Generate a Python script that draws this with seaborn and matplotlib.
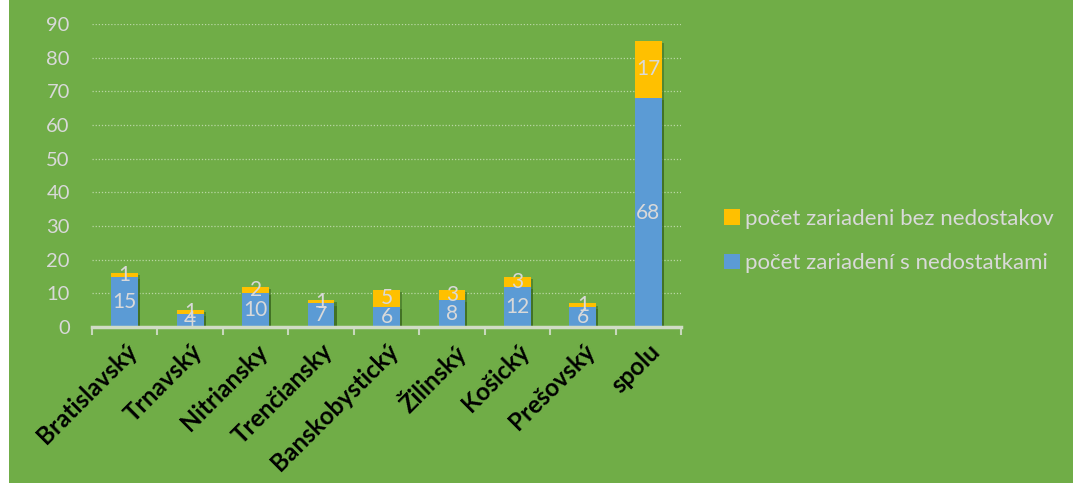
import matplotlib
matplotlib.use("Agg")
import matplotlib.pyplot as plt
import matplotlib.patheffects as pe
from matplotlib.patches import Rectangle
import seaborn as sns
import pandas as pd
import numpy as np

categories = ["Bratislavský", "Trnavský", "Nitriansky", "Trenčiansky", "Banskobystický",
              "Žilinský", "Košický", "Prešovský", "spolu"]
s_nedostatkami = [15, 4, 10, 7, 6, 8, 12, 6, 68]
bez_nedostatkov = [1, 1, 2, 1, 5, 3, 3, 1, 17]
label_bez = "počet zariadeni bez nedostakov"
label_s = "počet zariadení s nedostatkami"
yticks = [0, 10, 20, 30, 40, 50, 60, 70, 80, 90]

GREEN = "#70AD47"
BLUE = "#5B9BD5"
YELLOW = "#FFC000"
LIGHT = "#D9D9D9"

sns.set_theme(style="white")
plt.rcParams["font.family"] = ["Lato", "DejaVu Sans"]

df = pd.DataFrame({"kraj": categories,
                   "s": s_nedostatkami,
                   "bez": bez_nedostatkov})
df["total"] = df["s"] + df["bez"]

fig = plt.figure(figsize=(10.73, 4.83), dpi=100)
fig.patch.set_facecolor(GREEN)
fig.add_artist(Rectangle((0, 0), 9 / 1073, 1, transform=fig.transFigure,
                         facecolor="white", edgecolor="none", zorder=10))
ax = fig.add_axes([92 / 1073, 1 - 327 / 483, (681 - 92) / 1073, (327 - 24) / 483])
ax.set_facecolor(GREEN)

shadow = [pe.SimplePatchShadow(offset=(1.5, -1.5), shadow_rgbFace="#2f5a17", alpha=0.45), pe.Normal()]

sns.barplot(data=df, x="kraj", y="total", color=YELLOW, saturation=1, width=0.41,
            ax=ax, zorder=3)
sns.barplot(data=df, x="kraj", y="s", color=BLUE, saturation=1, width=0.41,
            ax=ax, zorder=4)
for p in ax.patches:
    p.set_path_effects(shadow)
    p.set_edgecolor("none")

blue_cont = ax.containers[1]
ax.bar_label(blue_cont, labels=[str(v) for v in s_nedostatkami], label_type="center",
             color=LIGHT, fontsize=15, zorder=6)
for i, (b, y) in enumerate(zip(s_nedostatkami, bez_nedostatkov)):
    ax.text(i, b + y / 2, str(y), ha="center", va="center", color=LIGHT,
            fontsize=15, zorder=6)

ax.set_ylim(0, 90)
ax.set_xlim(-0.5, len(categories) - 0.5)
ax.set_yticks(yticks)
ax.set_yticklabels([str(t) for t in yticks], color=LIGHT, fontsize=14.5)
ax.tick_params(axis="y", length=0, pad=16)
ax.set_xlabel("")
ax.set_ylabel("")

ax.set_xticks(range(len(categories)))
ax.set_xticklabels(categories, rotation=45, ha="right", rotation_mode="anchor",
                   fontsize=17.5, fontweight="bold", color="black")
ax.tick_params(axis="x", which="major", length=0, pad=9)
ax.set_xticks(np.arange(-0.5, len(categories), 1), minor=True)
ax.tick_params(axis="x", which="minor", bottom=True, length=6, width=1.5,
               color="#C8D8BC", direction="out")

for t in yticks[1:]:
    ax.axhline(t, color="#B9D7A3", linestyle=(0, (1, 1.5)), linewidth=0.9, zorder=1)

for s in ["top", "right", "left"]:
    ax.spines[s].set_visible(False)
ax.spines["bottom"].set_color("#D0DCC6")
ax.spines["bottom"].set_linewidth(2.5)
ax.spines["bottom"].set_zorder(5)

handles = [Rectangle((0, 0), 1, 1, facecolor=YELLOW, edgecolor="none"),
           Rectangle((0, 0), 1, 1, facecolor=BLUE, edgecolor="none")]
leg = fig.legend(handles, [label_bez, label_s], loc="center left",
                 bbox_to_anchor=(704 / 1073, 1 - 241 / 483), frameon=False,
                 fontsize=16, labelcolor=LIGHT, handlelength=0.7, handleheight=0.7,
                 handletextpad=0.25, labelspacing=1.1)

fig.savefig("out.png", dpi=100, facecolor=GREEN)
